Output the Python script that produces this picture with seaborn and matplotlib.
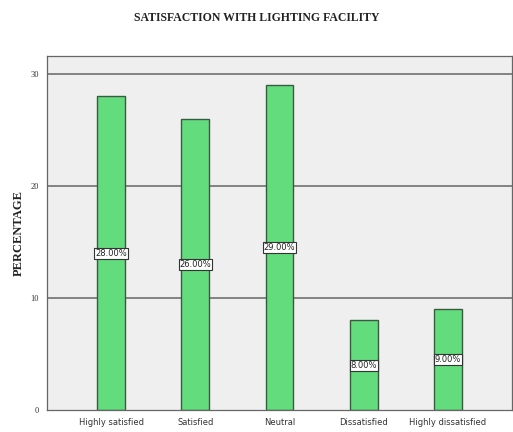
import matplotlib
matplotlib.use("Agg")
import matplotlib.pyplot as plt
import seaborn as sns
import pandas as pd

categories = ["Highly satisfied", "Satisfied", "Neutral", "Dissatisfied", "Highly dissatisfied"]
percentages = [28, 26, 29, 8, 9]
value_labels = ["28.00%", "26.00%", "29.00%", "8.00%", "9.00%"]
y_ticks = [0, 10, 20, 30]

df = pd.DataFrame({"category": categories, "percentage": percentages})

sns.set_style("white")
fig = plt.figure(figsize=(5.13, 4.32), dpi=100)
ax = fig.add_axes([0.092, 0.051, 0.906, 0.819])
ax.set_facecolor("#efefef")

sns.barplot(data=df, x="category", y="percentage", order=categories,
            color="#62dc7c", edgecolor="#3a5a40", linewidth=1.0,
            width=0.33, saturation=1, ax=ax)

ax.set_xlim(-0.76, 4.76)
ax.set_ylim(0, 31.6)
ax.set_yticks(y_ticks)
ax.set_yticklabels([str(t) for t in y_ticks], fontsize=6, color="#333333",
                   family="Liberation Serif")
ax.set_xticks(range(len(categories)))
ax.set_xticklabels(categories, fontsize=6, color="#333333")
ax.tick_params(axis="both", direction="out", length=4, width=0.8,
               color="#555555", pad=2)

for y in y_ticks[1:]:
    ax.axhline(y, color="#707070", linewidth=1.2, zorder=0.5)

for spine in ax.spines.values():
    spine.set_color("#666666")
    spine.set_linewidth(0.9)

for i, (v, lab) in enumerate(zip(percentages, value_labels)):
    ax.text(i, v / 2, lab, ha="center", va="center", fontsize=6,
            color="#222222",
            bbox=dict(boxstyle="square,pad=0.12", facecolor="white",
                      edgecolor="#333333", linewidth=0.8))

ax.set_xlabel("")
ax.set_ylabel("PERCENTAGE", fontsize=9, fontweight="bold",
              family="Liberation Serif", color="#222222", labelpad=4)
fig.suptitle("SATISFACTION WITH LIGHTING FACILITY", x=0.5, y=0.972,
             fontsize=8.5, fontweight="bold", family="Liberation Serif",
             color="#222222")

fig.savefig("out.png", dpi=100)
